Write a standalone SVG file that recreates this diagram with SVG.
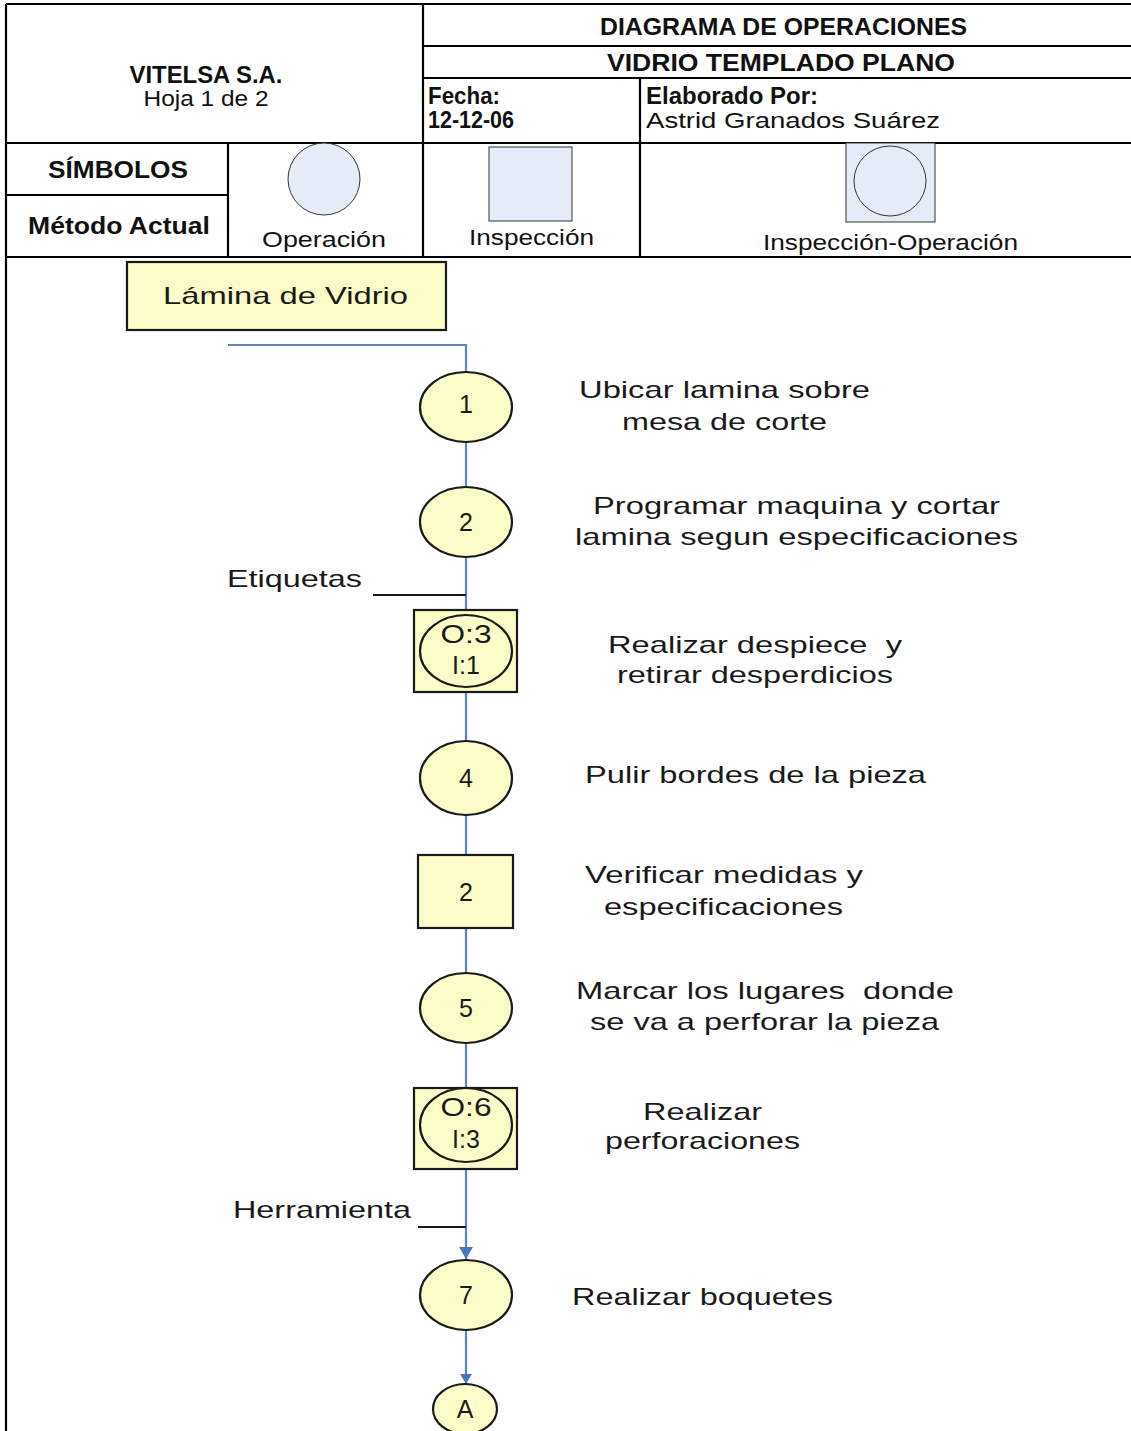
<svg xmlns="http://www.w3.org/2000/svg" width="1131" height="1431" viewBox="0 0 1131 1431">
  <defs>
    <style>
      .grid { stroke: #000; stroke-width: 2.2; fill: none; }
      .hb { font-family: "Liberation Sans", Arial, sans-serif; font-weight: bold; font-size: 23px; fill: #111; }
      .hr { font-family: "Liberation Sans", Arial, sans-serif; font-size: 22px; fill: #111; }
      .sym { fill: #E6ECF7; stroke: #333; stroke-width: 1; }
      .node { fill: #FCFCC8; stroke: #1a1a1a; stroke-width: 2.2; }
      .ft { font-family: "Liberation Sans", Arial, sans-serif; font-size: 24px; fill: #1a1a1a; }
      .num { font-family: "Liberation Sans", Arial, sans-serif; font-size: 25px; fill: #1a1a1a; text-anchor: middle; }
      .flow { stroke: #5B86C4; stroke-width: 2.2; fill: none; }
      .feed { stroke: #1a1a1a; stroke-width: 1.8; fill: none; }
    </style>
    <marker id="arrow" viewBox="0 0 12 14" refX="12" refY="7" markerWidth="12" markerHeight="14" markerUnits="userSpaceOnUse" orient="auto">
      <path d="M0,0 L12,7 L0,14 Z" fill="#4A78C0"/>
    </marker>
    <marker id="arrow-small" viewBox="0 0 10 12" refX="10" refY="6" markerWidth="10" markerHeight="12" markerUnits="userSpaceOnUse" orient="auto">
      <path d="M0,0 L10,6 L0,12 Z" fill="#4A78C0"/>
    </marker>
  </defs>

  <rect width="1131" height="1431" fill="#fff"/>

  <!-- header table -->
  <g id="table">
    <path class="grid" d="M6,4 H1131 M6,4 V1431 M423,4 V257 M640,78 V257 M228,143 V257 M423,46 H1131 M423,78 H1131 M6,143 H1131 M6,195 H228 M6,257 H1131"/>
  </g>

  <g id="header-texts">
    <text class="hb" x="206" y="83" text-anchor="middle" textLength="153" lengthAdjust="spacingAndGlyphs">VITELSA S.A.</text>
    <text class="hr" x="206" y="106" text-anchor="middle" textLength="125" lengthAdjust="spacingAndGlyphs">Hoja 1 de 2</text>
    <text class="hb" x="600" y="35" textLength="367" lengthAdjust="spacingAndGlyphs">DIAGRAMA DE OPERACIONES</text>
    <text class="hb" x="607" y="71" textLength="348" lengthAdjust="spacingAndGlyphs">VIDRIO TEMPLADO PLANO</text>
    <text class="hb" x="428" y="104" textLength="72" lengthAdjust="spacingAndGlyphs">Fecha:</text>
    <text class="hb" x="428" y="128" textLength="86" lengthAdjust="spacingAndGlyphs">12-12-06</text>
    <text class="hb" x="646" y="104" textLength="172" lengthAdjust="spacingAndGlyphs">Elaborado Por:</text>
    <text class="hr" x="646" y="128" textLength="294" lengthAdjust="spacingAndGlyphs">Astrid Granados Suárez</text>
    <text class="hb" x="48" y="178" textLength="140" lengthAdjust="spacingAndGlyphs">SÍMBOLOS</text>
    <text class="hb" x="28" y="234" textLength="182" lengthAdjust="spacingAndGlyphs">Método Actual</text>
  </g>

  <!-- symbol legend -->
  <g id="legend-operacion">
    <circle class="sym" cx="324" cy="179" r="36"/>
    <text class="hr" x="262" y="247" textLength="124" lengthAdjust="spacingAndGlyphs">Operación</text>
  </g>
  <g id="legend-inspeccion">
    <rect class="sym" x="489" y="147" width="83" height="74" stroke="#666"/>
    <text class="hr" x="469" y="245" textLength="125" lengthAdjust="spacingAndGlyphs">Inspección</text>
  </g>
  <g id="legend-combinada">
    <rect class="sym" x="846" y="143" width="89" height="79" stroke="#666"/>
    <ellipse class="sym" cx="890" cy="181" rx="36" ry="35"/>
    <text class="hr" x="763" y="250" textLength="255" lengthAdjust="spacingAndGlyphs">Inspección-Operación</text>
  </g>

  <!-- connectors -->
  <g id="connectors">
    <path class="flow" d="M228,345 H466 V372"/>
    <path class="flow" d="M466,442 V487"/>
    <path class="flow" d="M466,557 V610"/>
    <path class="feed" d="M373,595 H466"/>
    <path class="flow" d="M466,692 V741"/>
    <path class="flow" d="M466,815 V855"/>
    <path class="flow" d="M466,928 V973"/>
    <path class="flow" d="M466,1043 V1088"/>
    <path class="flow" d="M466,1169 V1259" marker-end="url(#arrow)"/>
    <path class="feed" d="M418,1227 H466"/>
    <path class="flow" d="M466,1330 V1384" stroke-width="1.8" marker-end="url(#arrow-small)"/>
  </g>

  <!-- nodes -->
  <g id="lamina">
    <rect class="node" x="127" y="262" width="319" height="68"/>
    <text class="ft" x="163" y="304" textLength="245" lengthAdjust="spacingAndGlyphs">Lámina de Vidrio</text>
  </g>

  <g id="op1">
    <ellipse class="node" cx="466" cy="407" rx="46" ry="35"/>
    <text class="num" x="466" y="413" font-size="17">1</text>
    <text class="ft" x="579" y="398" textLength="291" lengthAdjust="spacingAndGlyphs">Ubicar lamina sobre</text>
    <text class="ft" x="622" y="430" textLength="205" lengthAdjust="spacingAndGlyphs">mesa de corte</text>
  </g>

  <g id="op2">
    <ellipse class="node" cx="466" cy="522" rx="46" ry="35"/>
    <text class="num" x="466" y="531">2</text>
    <text class="ft" x="593" y="514" textLength="407" lengthAdjust="spacingAndGlyphs">Programar maquina y cortar</text>
    <text class="ft" x="575" y="545" textLength="443" lengthAdjust="spacingAndGlyphs">lamina segun especificaciones</text>
    <text class="ft" x="227" y="587" textLength="135" lengthAdjust="spacingAndGlyphs">Etiquetas</text>
  </g>

  <g id="op3-insp1">
    <rect class="node" x="414" y="610" width="103" height="82"/>
    <ellipse class="node" cx="466" cy="651" rx="46" ry="36"/>
    <text class="num" x="466" y="643" textLength="51" lengthAdjust="spacingAndGlyphs">O:3</text>
    <text class="num" x="466" y="674">I:1</text>
    <text class="ft" x="608" y="653" textLength="294" lengthAdjust="spacingAndGlyphs" xml:space="preserve">Realizar despiece  y</text>
    <text class="ft" x="617" y="683" textLength="276" lengthAdjust="spacingAndGlyphs">retirar desperdicios</text>
  </g>

  <g id="op4">
    <ellipse class="node" cx="466" cy="778" rx="46" ry="37"/>
    <text class="num" x="466" y="787">4</text>
    <text class="ft" x="585" y="783" textLength="341" lengthAdjust="spacingAndGlyphs">Pulir bordes de la pieza</text>
  </g>

  <g id="insp2">
    <rect class="node" x="418" y="855" width="95" height="73"/>
    <text class="num" x="466" y="901">2</text>
    <text class="ft" x="585" y="883" textLength="278" lengthAdjust="spacingAndGlyphs">Verificar medidas y</text>
    <text class="ft" x="604" y="915" textLength="239" lengthAdjust="spacingAndGlyphs">especificaciones</text>
  </g>

  <g id="op5">
    <ellipse class="node" cx="466" cy="1008" rx="46" ry="35"/>
    <text class="num" x="466" y="1017">5</text>
    <text class="ft" x="576" y="999" textLength="378" lengthAdjust="spacingAndGlyphs" xml:space="preserve">Marcar los lugares  donde</text>
    <text class="ft" x="590" y="1030" textLength="349" lengthAdjust="spacingAndGlyphs">se va a perforar la pieza</text>
  </g>

  <g id="op6-insp3">
    <rect class="node" x="414" y="1088" width="103" height="81"/>
    <ellipse class="node" cx="466" cy="1125" rx="46" ry="37"/>
    <text class="num" x="466" y="1116" textLength="51" lengthAdjust="spacingAndGlyphs">O:6</text>
    <text class="num" x="466" y="1148">I:3</text>
    <text class="ft" x="643" y="1120" textLength="119" lengthAdjust="spacingAndGlyphs">Realizar</text>
    <text class="ft" x="605" y="1149" textLength="195" lengthAdjust="spacingAndGlyphs">perforaciones</text>
    <text class="ft" x="233" y="1218" textLength="178" lengthAdjust="spacingAndGlyphs">Herramienta</text>
  </g>

  <g id="op7">
    <ellipse class="node" cx="466" cy="1295" rx="46" ry="35"/>
    <text class="num" x="466" y="1304">7</text>
    <text class="ft" x="572" y="1305" textLength="261" lengthAdjust="spacingAndGlyphs">Realizar boquetes</text>
  </g>

  <g id="connector-A">
    <ellipse class="node" cx="465" cy="1409" rx="32" ry="25"/>
    <text class="num" x="465" y="1418">A</text>
  </g>
</svg>
